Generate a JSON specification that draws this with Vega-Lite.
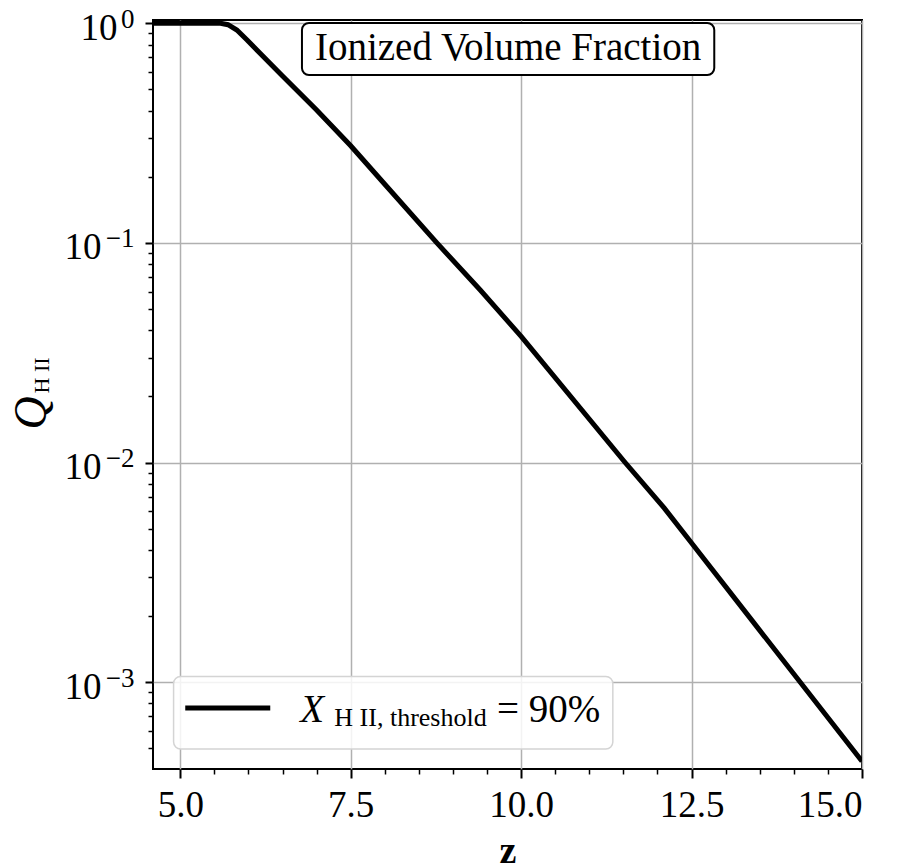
{
  "$schema": "https://vega.github.io/schema/vega-lite/v6.json",
  "width": 709,
  "height": 749,
  "autosize": {"type": "none"},
  "padding": {"left": 153, "top": 20, "right": 38, "bottom": 98},
  "background": "white",
  "config": {
    "font": "Liberation Serif",
    "view": {"stroke": "black", "strokeWidth": 2},
    "axis": {
      "labelFont": "Liberation Serif",
      "titleFont": "Liberation Serif",
      "labelColor": "black",
      "titleColor": "black",
      "tickColor": "black",
      "domain": false,
      "gridColor": "#b0b0b0",
      "gridWidth": 1.5,
      "gridOpacity": 1
    }
  },
  "resolve": {"axis": {"x": "independent", "y": "independent"}},
  "layer": [
    {
      "data": {"values": [
        {"z": 4.6, "q": 1.0},
        {"z": 5.0, "q": 1.0},
        {"z": 5.59, "q": 1.0},
        {"z": 5.7, "q": 0.985},
        {"z": 5.83, "q": 0.932},
        {"z": 5.98, "q": 0.84},
        {"z": 6.17, "q": 0.73},
        {"z": 6.5, "q": 0.575},
        {"z": 7.0, "q": 0.403},
        {"z": 7.5, "q": 0.277},
        {"z": 8.0, "q": 0.185},
        {"z": 8.764, "q": 0.1},
        {"z": 9.4, "q": 0.061},
        {"z": 10.0, "q": 0.0375},
        {"z": 11.525, "q": 0.01},
        {"z": 12.1, "q": 0.0062},
        {"z": 12.5, "q": 0.0043},
        {"z": 13.38, "q": 0.00192},
        {"z": 15.0, "q": 0.000436}
      ]},
      "mark": {"type": "line", "color": "black", "strokeWidth": 5, "clip": true},
      "encoding": {
        "x": {
          "field": "z", "type": "quantitative",
          "scale": {"domain": [4.6, 15], "nice": false, "zero": false},
          "axis": {
            "orient": "bottom",
            "values": [5, 7.5, 10, 12.5, 15], "format": ".1f",
            "labelFontSize": 37, "tickSize": 9, "tickWidth": 2, "labelPadding": 9,
            "grid": true,
            "title": "z", "titleFontSize": 38, "titleFontWeight": "bold",
            "titleBaseline": "alphabetic", "titleAlign": "center", "titleX": 354.5, "titleY": 93
          }
        },
        "y": {
          "field": "q", "type": "quantitative",
          "scale": {"type": "log", "domain": [0.0004022, 1.035], "nice": false},
          "axis": {
            "orient": "left",
            "values": [1, 0.1, 0.01, 0.001],
            "labelExpr": "datum.value >= 0.5 ? '' : '10'",
            "labelFontSize": 37, "tickSize": 8, "tickWidth": 2, "labelPadding": 44, "labelOffset": 5,
            "labelBaseline": "middle", "labelAlign": "right",
            "grid": true,
            "title": "Q", "titleFontSize": 46, "titleFontStyle": "italic", "titleFontWeight": "normal",
            "titleAngle": 270, "titleBaseline": "alphabetic", "titleAlign": "left", "titleX": -108, "titleY": 409
          }
        }
      }
    },
    {
      "data": {"values": [{"x0": 6.785, "x1": 12.833, "y0": 1.003, "y1": 0.5815}]},
      "mark": {"type": "rect", "fill": "white", "stroke": "black", "strokeWidth": 2, "cornerRadius": 7},
      "encoding": {
        "x": {
          "field": "x0", "type": "quantitative",
          "scale": {"domain": [4.6, 15], "nice": false, "zero": false},
          "axis": {
            "orient": "bottom",
            "values": [5.5, 6, 6.5, 7, 8, 8.5, 9, 9.5, 10.5, 11, 11.5, 12, 13, 13.5, 14, 14.5],
            "labels": false, "grid": false, "tickSize": 5, "tickWidth": 1.5, "title": null
          }
        },
        "x2": {"field": "x1"},
        "y": {
          "field": "y0", "type": "quantitative",
          "scale": {"type": "log", "domain": [0.0004022, 1.035], "nice": false},
          "axis": {
            "orient": "left",
            "values": [1],
            "labelExpr": "'10'",
            "labelFontSize": 37, "ticks": false, "tickSize": 0, "labelPadding": 36, "labelOffset": 5,
            "labelBaseline": "middle", "labelAlign": "right",
            "grid": false, "title": null
          }
        },
        "y2": {"field": "y1"}
      }
    },
    {
      "data": {"values": [{"zc": 9.809, "qb": 0.6807, "label": "Ionized Volume Fraction"}]},
      "mark": {"type": "text", "fontSize": 39, "font": "Liberation Serif", "align": "center", "baseline": "alphabetic", "color": "black"},
      "encoding": {
        "x": {"field": "zc", "type": "quantitative", "scale": {"domain": [4.6, 15], "nice": false, "zero": false}, "axis": null},
        "y": {
          "field": "qb", "type": "quantitative",
          "scale": {"type": "log", "domain": [0.0004022, 1.035], "nice": false},
          "axis": {
            "orient": "left",
            "values": [1, 0.1, 0.01, 0.001],
            "labelExpr": "datum.value >= 0.5 ? '0' : datum.value >= 0.05 ? '−1' : datum.value >= 0.005 ? '−2' : '−3'",
            "labelFontSize": 27, "ticks": false, "tickSize": 0, "labelPadding": 19, "labelOffset": -4,
            "labelBaseline": "middle", "labelAlign": "right",
            "grid": false, "title": null
          }
        },
        "text": {"field": "label"}
      }
    },
    {
      "data": {"values": [{"x0": 4.902, "x1": 11.345, "y0": 0.001062, "y1": 0.000496}]},
      "mark": {"type": "rect", "fill": "white", "fillOpacity": 0.85, "stroke": "#d4d4d4", "strokeWidth": 1.5, "cornerRadius": 7},
      "encoding": {
        "x": {"field": "x0", "type": "quantitative", "scale": {"domain": [4.6, 15], "nice": false, "zero": false}, "axis": null},
        "x2": {"field": "x1"},
        "y": {
          "field": "y0", "type": "quantitative",
          "scale": {"type": "log", "domain": [0.0004022, 1.035], "nice": false},
          "axis": {
            "orient": "left",
            "values": [0.9, 0.8, 0.7, 0.6, 0.5, 0.4, 0.3, 0.2, 0.09, 0.08, 0.07, 0.06, 0.05, 0.04, 0.03, 0.02, 0.009, 0.008, 0.007, 0.006, 0.005, 0.004, 0.003, 0.002, 0.0009, 0.0008, 0.0007, 0.0006, 0.0005],
            "labels": false, "grid": false, "tickSize": 5, "tickWidth": 1.5,
            "title": "H II", "titleFontSize": 22, "titleFontWeight": "normal", "titleFontStyle": "normal",
            "titleAngle": 270, "titleBaseline": "alphabetic", "titleAlign": "left", "titleX": -105, "titleY": 373
          }
        },
        "y2": {"field": "y1"}
      }
    },
    {
      "data": {"values": [{"x0": 5.073, "x1": 6.32, "y0": 0.000762}]},
      "mark": {"type": "rule", "color": "black", "strokeWidth": 5},
      "encoding": {
        "x": {"field": "x0", "type": "quantitative", "scale": {"domain": [4.6, 15], "nice": false, "zero": false}, "axis": null},
        "x2": {"field": "x1"},
        "y": {"field": "y0", "type": "quantitative", "scale": {"type": "log", "domain": [0.0004022, 1.035], "nice": false}, "axis": null}
      }
    },
    {
      "data": {"values": [{"zx": 6.76, "qx": 0.000656, "label": "X"}]},
      "mark": {"type": "text", "fontSize": 39, "fontStyle": "italic", "font": "Liberation Serif", "align": "left", "baseline": "alphabetic", "color": "black"},
      "encoding": {
        "x": {"field": "zx", "type": "quantitative", "scale": {"domain": [4.6, 15], "nice": false, "zero": false}, "axis": null},
        "y": {"field": "qx", "type": "quantitative", "scale": {"type": "log", "domain": [0.0004022, 1.035], "nice": false}, "axis": null},
        "text": {"field": "label"}
      }
    },
    {
      "data": {"values": [{"zx": 7.26, "qx": 0.0006285, "label": "H II, threshold"}]},
      "mark": {"type": "text", "fontSize": 26, "font": "Liberation Serif", "align": "left", "baseline": "alphabetic", "color": "black"},
      "encoding": {
        "x": {"field": "zx", "type": "quantitative", "scale": {"domain": [4.6, 15], "nice": false, "zero": false}, "axis": null},
        "y": {"field": "qx", "type": "quantitative", "scale": {"type": "log", "domain": [0.0004022, 1.035], "nice": false}, "axis": null},
        "text": {"field": "label"}
      }
    },
    {
      "data": {"values": [{"zx": 9.646, "qx": 0.000656, "label": "= 90%"}]},
      "mark": {"type": "text", "fontSize": 39, "font": "Liberation Serif", "align": "left", "baseline": "alphabetic", "color": "black"},
      "encoding": {
        "x": {"field": "zx", "type": "quantitative", "scale": {"domain": [4.6, 15], "nice": false, "zero": false}, "axis": null},
        "y": {"field": "qx", "type": "quantitative", "scale": {"type": "log", "domain": [0.0004022, 1.035], "nice": false}, "axis": null},
        "text": {"field": "label"}
      }
    }
  ]
}
